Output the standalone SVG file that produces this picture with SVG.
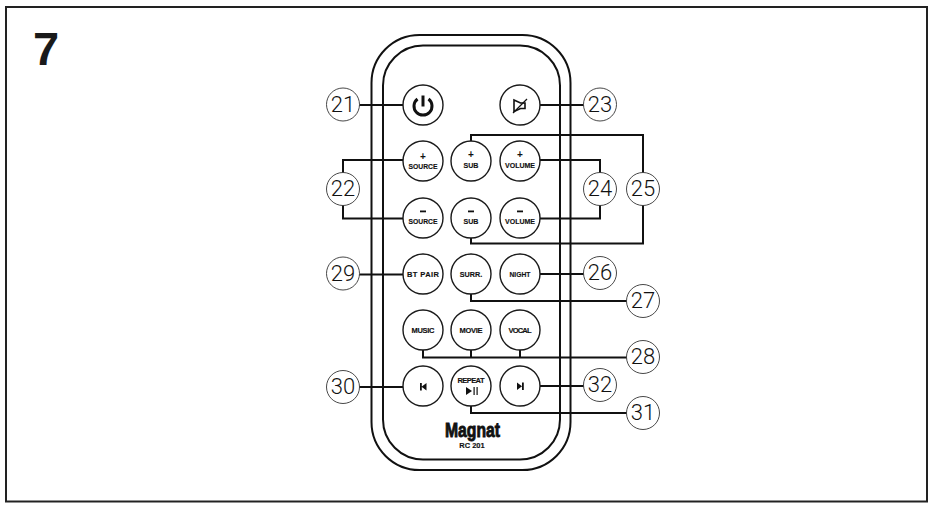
<svg xmlns="http://www.w3.org/2000/svg" width="938" height="512" viewBox="0 0 938 512">
<style>
.body{fill:none;stroke:#111;stroke-width:2}
.btn{fill:#fff;stroke:#1a1a1a;stroke-width:1.4}
.num{fill:#fff;stroke:#333;stroke-width:.9}
.n{font-family:Roboto,"Liberation Sans",Arial,sans-serif;font-weight:300;font-size:22px;fill:#111;text-anchor:middle}
.b{font-family:"Liberation Sans",Arial,sans-serif;font-size:7.5px;font-weight:bold;fill:#111;stroke:#111;stroke-width:.15;text-anchor:middle}
.p{font-family:"Liberation Sans",Arial,sans-serif;font-size:10px;font-weight:bold;fill:#111;text-anchor:middle}
.c{fill:none;stroke:#111;stroke-width:2}
.g{fill:#111}
</style>
<rect width="938" height="512" fill="#fff"/>
<rect x="6" y="7" width="921" height="494.500" fill="none" stroke="#222" stroke-width="2"/>
<text x="46" y="65" font-family="Liberation Sans,Arial,sans-serif" font-size="47" font-weight="bold" fill="#1a1a1a" text-anchor="middle">7</text>
<g id="remote">
<rect class="body" x="371.500" y="35" width="199" height="435" rx="48" ry="48"/>
<rect class="body" x="383" y="45.500" width="177" height="414" rx="40" ry="40"/>
</g>
<g id="connectors" class="c">
<path d="M359 105H403"/>
<path d="M540 105H584"/>
<path d="M403 160H343V173M343 205V218.500H403"/>
<path d="M540 160H600V173M600 205V218.500H540"/>
<path d="M471 141V135H643V173M643 205V243.500H471V238"/>
<path d="M359 274.500H403"/>
<path d="M540 274H584"/>
<path d="M471 294V301H627"/>
<path d="M423 350V357.500H627M471 350V357.500M520 350V357.500"/>
<path d="M359 387H403"/>
<path d="M540 386H584"/>
<path d="M471 406V413H627"/>
</g>
<g id="btn-power"><circle class="btn" cx="423" cy="105" r="20"/>
<path d="M417.500 99a9 9 0 1 0 11 0" fill="none" stroke="#111" stroke-width="3"/><path d="M423 95.500V106.500" stroke="#111" stroke-width="3"/></g>
<g id="btn-mute"><circle class="btn" cx="520" cy="105" r="20"/>
<path d="M514 100L520.500 103H525V108.500H520.500L514 111.500Z" fill="none" stroke="#111" stroke-width="1.600"/><path d="M513 113L527 99" stroke="#111" stroke-width="1.300"/></g>
<g id="btn-source-plus"><circle class="btn" cx="423" cy="161" r="20"/><text class="p" x="423" y="160">+</text><text class="b" x="423" y="169" textLength="29" lengthAdjust="spacingAndGlyphs">SOURCE</text></g>
<g id="btn-sub-plus"><circle class="btn" cx="471" cy="161" r="20"/><text class="p" x="471" y="158">+</text><text class="b" x="471" y="167.500" textLength="15" lengthAdjust="spacingAndGlyphs">SUB</text></g>
<g id="btn-volume-plus"><circle class="btn" cx="520" cy="161" r="20"/><text class="p" x="520" y="158">+</text><text class="b" x="520" y="167.500" textLength="30" lengthAdjust="spacingAndGlyphs">VOLUME</text></g>
<g id="btn-source-minus"><circle class="btn" cx="423" cy="218" r="20"/><path class="g" d="M420 210.500h6v1.800h-6z"/><text class="b" x="423" y="223.500" textLength="29" lengthAdjust="spacingAndGlyphs">SOURCE</text></g>
<g id="btn-sub-minus"><circle class="btn" cx="471" cy="218" r="20"/><path class="g" d="M468 210.500h6v1.800h-6z"/><text class="b" x="471" y="223.500" textLength="15" lengthAdjust="spacingAndGlyphs">SUB</text></g>
<g id="btn-volume-minus"><circle class="btn" cx="520" cy="218" r="20"/><path class="g" d="M517 210.500h6v1.800h-6z"/><text class="b" x="520" y="223.500" textLength="30" lengthAdjust="spacingAndGlyphs">VOLUME</text></g>
<g id="btn-bt"><circle class="btn" cx="423" cy="274" r="20"/><text class="b" x="423" y="276.500" textLength="32" lengthAdjust="spacing">BT PAIR</text></g>
<g id="btn-surr"><circle class="btn" cx="471" cy="274" r="20"/><text class="b" x="471" y="276.500" textLength="22.500" lengthAdjust="spacingAndGlyphs">SURR.</text></g>
<g id="btn-night"><circle class="btn" cx="520" cy="274" r="20"/><text class="b" x="520" y="276.500" textLength="21" lengthAdjust="spacingAndGlyphs">NIGHT</text></g>
<g id="btn-music"><circle class="btn" cx="423" cy="330" r="20"/><text class="b" x="423" y="333" textLength="23" lengthAdjust="spacing">MUSIC</text></g>
<g id="btn-movie"><circle class="btn" cx="471" cy="330" r="20"/><text class="b" x="471" y="333" textLength="23" lengthAdjust="spacing">MOVIE</text></g>
<g id="btn-vocal"><circle class="btn" cx="520" cy="330" r="20"/><text class="b" x="520" y="333" textLength="23" lengthAdjust="spacing">VOCAL</text></g>
<g id="btn-prev"><circle class="btn" cx="423" cy="386" r="20"/><path class="g" d="M420 383h1.800v7.500H420zM426.500 383v7.500l-5-3.700z"/></g>
<g id="btn-repeat"><circle class="btn" cx="471" cy="386" r="20"/><text class="b" x="471" y="383" textLength="27" lengthAdjust="spacing">REPEAT</text><path class="g" d="M466 387l6 4-6 4zM473.500 387h1.200v8h-1.200zM476.500 387h1.200v8h-1.200z"/></g>
<g id="btn-next"><circle class="btn" cx="520" cy="386" r="20"/><path class="g" d="M517 382.500v7.500l5-3.700zM522 382.500h1.800v7.500H522z"/></g>
<g id="logo"><text x="472.500" y="436.500" font-family="Liberation Sans,Arial,sans-serif" font-size="20" font-weight="bold" fill="#111" stroke="#111" stroke-width=".9" text-anchor="middle" textLength="55" lengthAdjust="spacingAndGlyphs">Magnat</text><text class="b" x="472" y="447.500">RC 201</text></g>
<g id="n21"><circle class="num" cx="343" cy="104.500" r="16.500"/><text class="n" x="343" y="111.500">21</text></g>
<g id="n22"><circle class="num" cx="343" cy="189" r="16.500"/><text class="n" x="343" y="196">22</text></g>
<g id="n23"><circle class="num" cx="600" cy="104.500" r="16.500"/><text class="n" x="600" y="111.500">23</text></g>
<g id="n24"><circle class="num" cx="600" cy="189" r="16.500"/><text class="n" x="600" y="196">24</text></g>
<g id="n25"><circle class="num" cx="643" cy="189" r="16.500"/><text class="n" x="643" y="196">25</text></g>
<g id="n26"><circle class="num" cx="600" cy="273" r="16.500"/><text class="n" x="600" y="280">26</text></g>
<g id="n27"><circle class="num" cx="643" cy="301" r="16.500"/><text class="n" x="643" y="308">27</text></g>
<g id="n28"><circle class="num" cx="643" cy="357" r="16.500"/><text class="n" x="643" y="364">28</text></g>
<g id="n29"><circle class="num" cx="343" cy="273.500" r="16.500"/><text class="n" x="343" y="280.500">29</text></g>
<g id="n30"><circle class="num" cx="343" cy="387" r="16.500"/><text class="n" x="343" y="394">30</text></g>
<g id="n31"><circle class="num" cx="643" cy="413" r="16.500"/><text class="n" x="643" y="420">31</text></g>
<g id="n32"><circle class="num" cx="600" cy="385" r="16.500"/><text class="n" x="600" y="392">32</text></g>
</svg>
